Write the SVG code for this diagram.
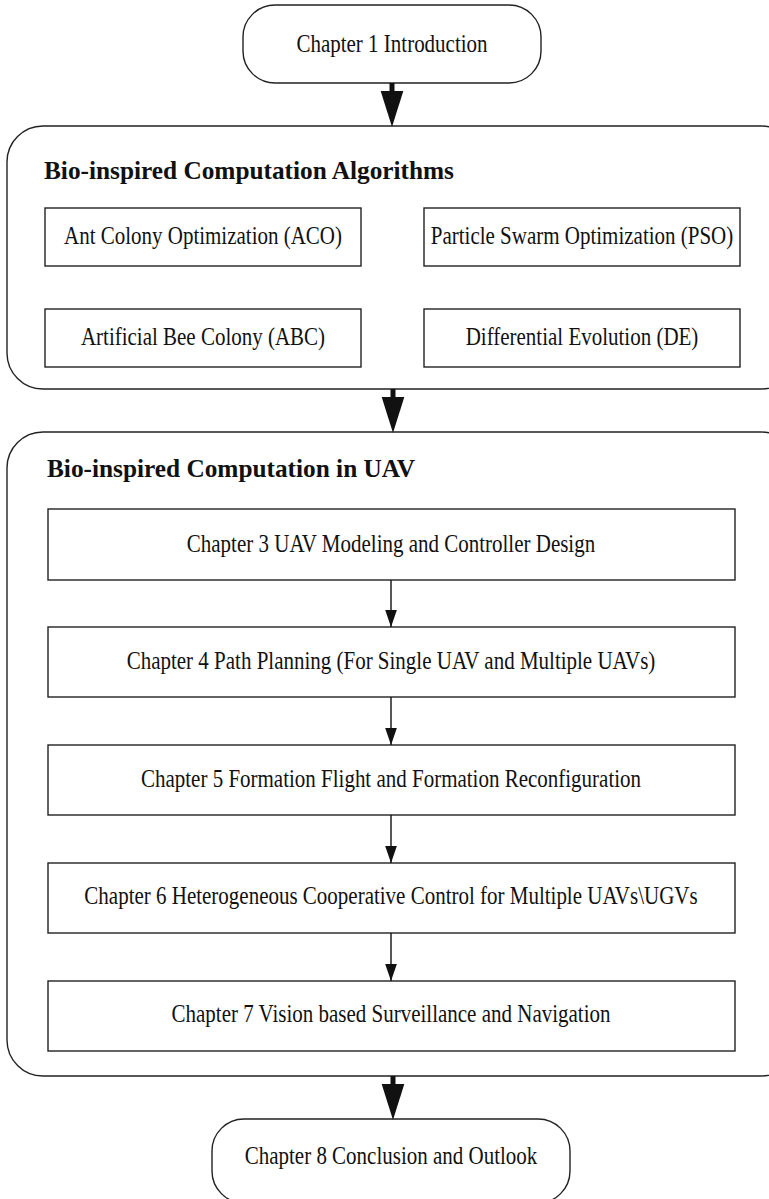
<svg xmlns="http://www.w3.org/2000/svg" width="769" height="1199" viewBox="0 0 769 1199">
<style>
.r{fill:#fff;stroke:#222;stroke-width:1.4}
.t{font-family:"Liberation Serif","Times New Roman",serif;font-size:21px;fill:#111;text-anchor:middle}
.h{font-family:"Liberation Serif","Times New Roman",serif;font-size:25.3px;font-weight:bold;fill:#111}
.thin{stroke:#111;stroke-width:1.4;fill:none}
.thick{stroke:#111;stroke-width:5;fill:none}
</style>
<defs>
<marker id="big" markerUnits="userSpaceOnUse" markerWidth="36" markerHeight="24" refX="1" refY="11" orient="auto" viewBox="0 0 35 22">
<path d="M0,0 L35,11 L0,22 Z" fill="#111"/>
</marker>
<marker id="small" markerUnits="userSpaceOnUse" markerWidth="17" markerHeight="12" refX="16" refY="5.5" orient="auto" viewBox="0 0 16 11">
<path d="M0,0 L16,5.5 L0,11 Z" fill="#111"/>
</marker>
</defs>
<rect width="769" height="1199" fill="#fff"/>

<g id="ch1">
<rect class="r" x="243" y="5" width="298" height="78" rx="32"/>
<text class="t" transform="translate(392,52) scale(1,1.22)">Chapter 1 Introduction</text>
</g>

<g id="algorithms">
<rect class="r" x="7" y="126" width="790" height="263" rx="36"/>
<text class="h" x="44" y="179">Bio-inspired Computation Algorithms</text>
</g>
<g id="aco">
<rect class="r" x="45" y="208" width="316" height="58"/>
<text class="t" transform="translate(203,244) scale(1,1.22)">Ant Colony Optimization (ACO)</text>
</g>
<g id="pso">
<rect class="r" x="424" y="208" width="316" height="58"/>
<text class="t" transform="translate(582,244) scale(1,1.22)">Particle Swarm Optimization (PSO)</text>
</g>
<g id="abc">
<rect class="r" x="45" y="309" width="316" height="58"/>
<text class="t" transform="translate(203,345) scale(1,1.22)">Artificial Bee Colony (ABC)</text>
</g>
<g id="de">
<rect class="r" x="424" y="309" width="316" height="58"/>
<text class="t" transform="translate(582,345) scale(1,1.22)">Differential Evolution (DE)</text>
</g>

<g id="uav">
<rect class="r" x="7" y="432" width="790" height="644" rx="36"/>
<text class="h" x="47" y="477">Bio-inspired Computation in UAV</text>
</g>
<g id="ch3">
<rect class="r" x="48" y="509" width="687" height="71"/>
<text class="t" transform="translate(391,552) scale(1,1.22)">Chapter 3 UAV Modeling and Controller Design</text>
</g>
<g id="ch4">
<rect class="r" x="48" y="627" width="687" height="70"/>
<text class="t" transform="translate(391,669) scale(1,1.22)">Chapter 4 Path Planning (For Single UAV and Multiple UAVs)</text>
</g>
<g id="ch5">
<rect class="r" x="48" y="745" width="687" height="70"/>
<text class="t" transform="translate(391,787) scale(1,1.22)">Chapter 5 Formation Flight and Formation Reconfiguration</text>
</g>
<g id="ch6">
<rect class="r" x="48" y="863" width="687" height="70"/>
<text class="t" transform="translate(391,904) scale(1,1.22)">Chapter 6 Heterogeneous Cooperative Control for Multiple UAVs\UGVs</text>
</g>
<g id="ch7">
<rect class="r" x="48" y="981" width="687" height="70"/>
<text class="t" transform="translate(391,1022) scale(1,1.22)">Chapter 7 Vision based Surveillance and Navigation</text>
</g>

<g id="ch8">
<rect class="r" x="212" y="1119" width="358" height="84" rx="32"/>
<text class="t" transform="translate(391,1164) scale(1,1.22)">Chapter 8 Conclusion and Outlook</text>
</g>

<g id="connectors">
<line class="thick" x1="392" y1="83" x2="392" y2="92" marker-end="url(#big)"/>
<line class="thick" x1="393" y1="389" x2="393" y2="398" marker-end="url(#big)"/>
<line class="thick" x1="393" y1="1076" x2="393" y2="1085" marker-end="url(#big)"/>
<line class="thin" x1="391" y1="580" x2="391" y2="627" marker-end="url(#small)"/>
<line class="thin" x1="391" y1="697" x2="391" y2="745" marker-end="url(#small)"/>
<line class="thin" x1="391" y1="815" x2="391" y2="863" marker-end="url(#small)"/>
<line class="thin" x1="391" y1="933" x2="391" y2="981" marker-end="url(#small)"/>
</g>
</svg>
